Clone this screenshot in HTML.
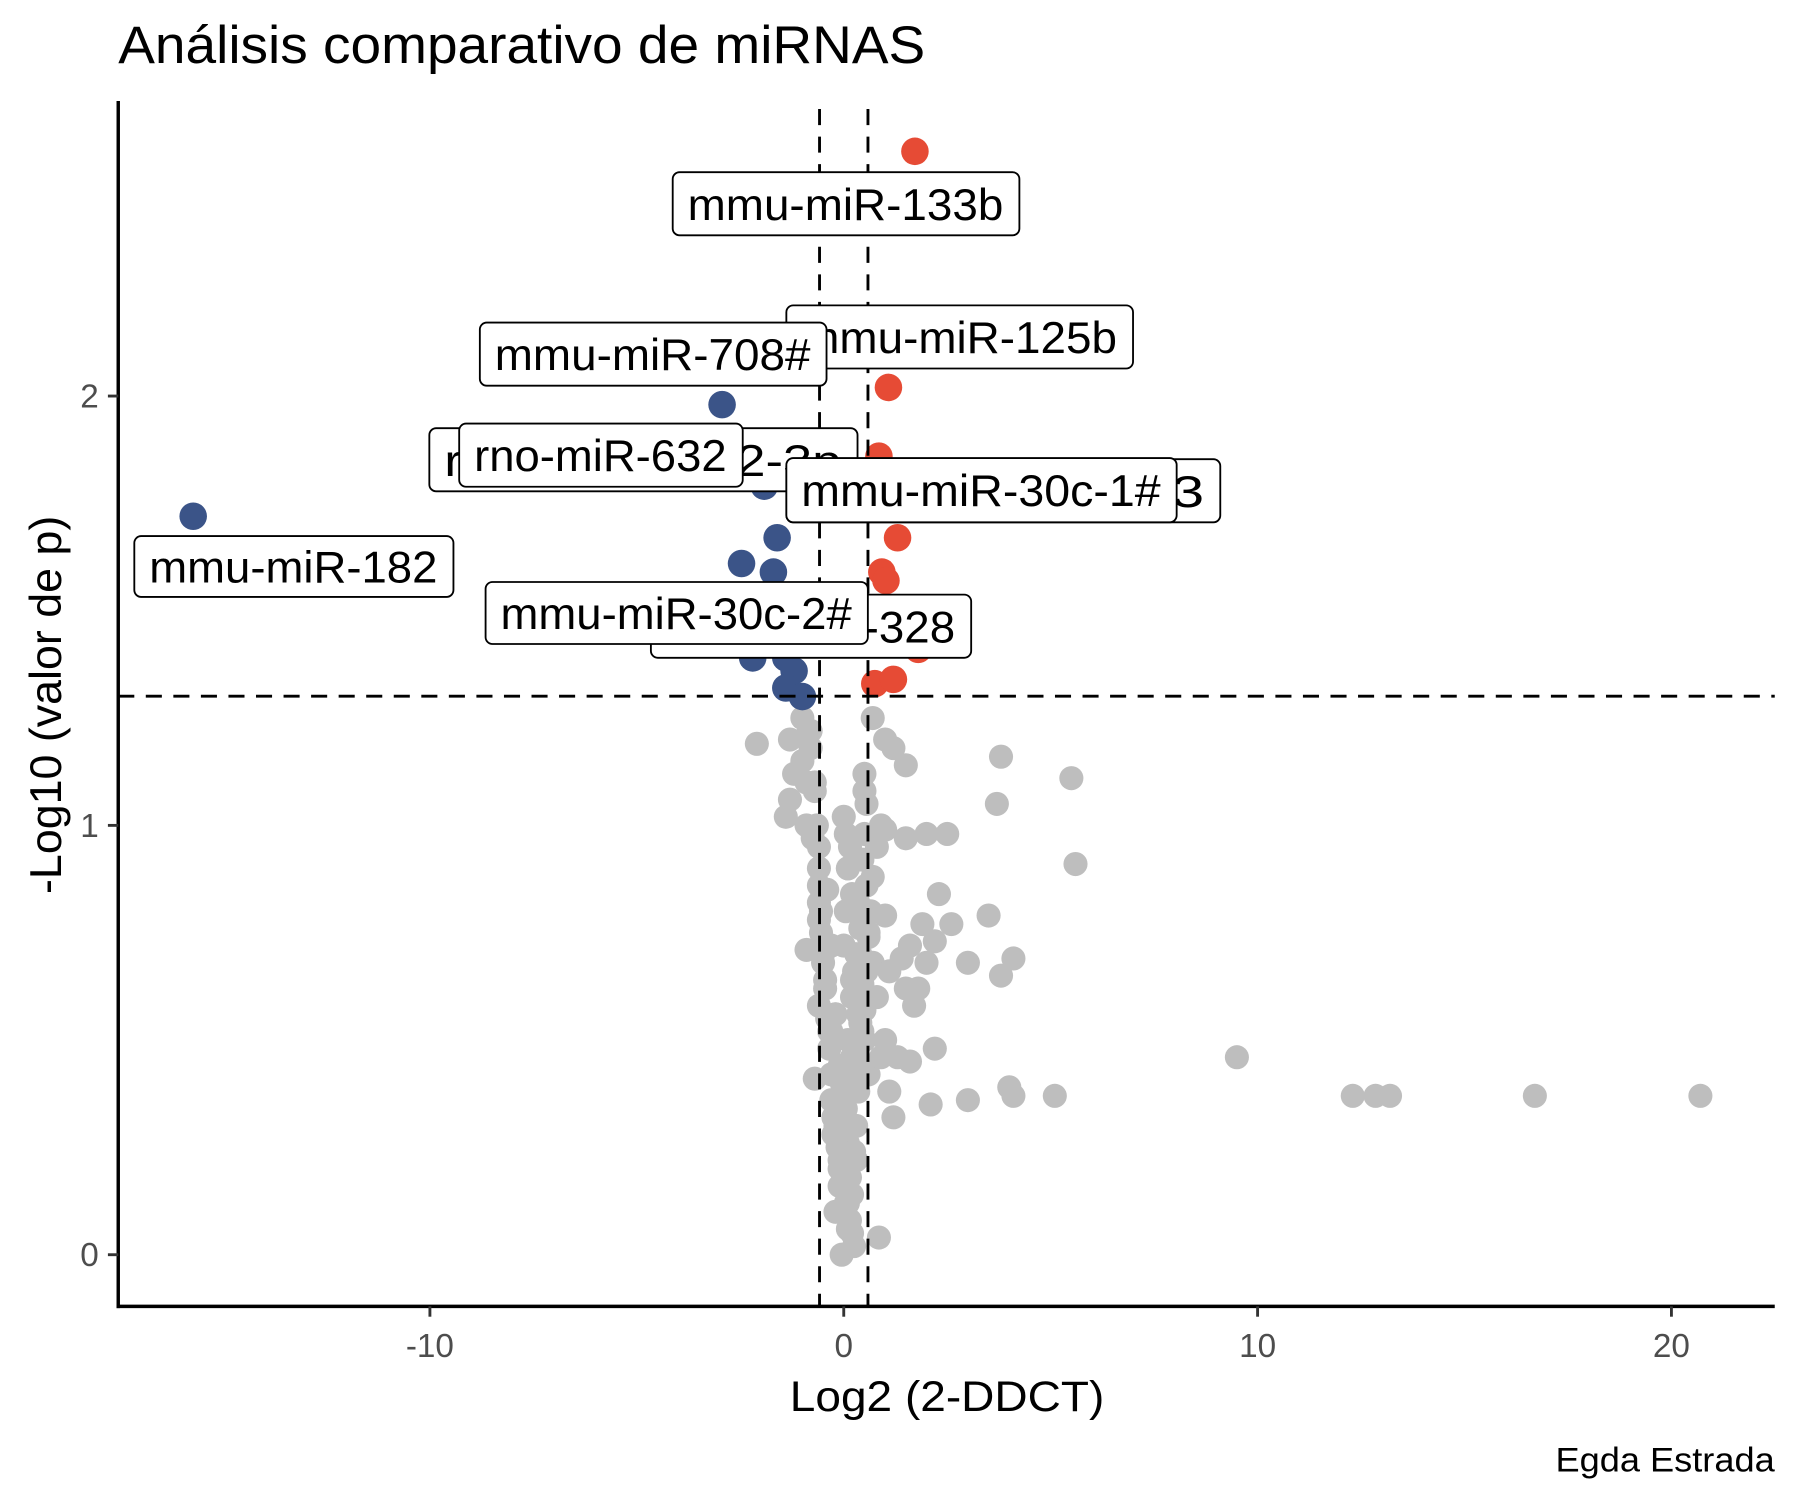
<!DOCTYPE html>
<html><head><meta charset="utf-8"><style>
html,body{margin:0;padding:0;background:#fff}
svg{display:block}
text{font-family:"Liberation Sans",Arial,sans-serif}
</style></head><body>
<svg id="chart" width="1800" height="1500" viewBox="0 0 1568 1306.67" preserveAspectRatio="none" xmlns="http://www.w3.org/2000/svg">
<rect x="0" y="0" width="1568" height="1306.67" fill="#fff"/>
<text x="103" y="55" font-size="46" textLength="703" lengthAdjust="spacingAndGlyphs" fill="#000">Análisis comparativo de miRNAS</text>
<g id="grey"></g>
<g id="sig"></g>
<g id="guides"></g>
<g id="labels"></g>
<g id="axes"></g>
<text x="688" y="1229" font-size="37" textLength="274" lengthAdjust="spacingAndGlyphs" fill="#000">Log2 (2-DDCT)</text>
<text transform="translate(53,614) rotate(-90)" font-size="39" text-anchor="middle" fill="#000">-Log10 (valor de p)</text>
<text x="1355" y="1282" font-size="30" textLength="191" lengthAdjust="spacingAndGlyphs" fill="#000">Egda Estrada</text>
</svg>
<script>
const xTicks = [-10, 0, 10, 20];
const yTicks = [0, 1, 2];
const fcThresh = [-0.585, 0.585];
const pThresh = [1.301];
const upX = [1.72, 1.08, 0.85, 1.3, 0.92, 1.02, 1.8, 0.75, 1.2, 1.0, 0.8];
const upY = [2.57, 2.02, 1.86, 1.67, 1.59, 1.57, 1.41, 1.33, 1.34, 1.45, 1.80];
const downX = [-15.72, -2.94, -1.92, -1.61, -2.47, -1.7, -2.2, -1.4, -1.2, -1.4, -1.0, -1.3, -1.9];
const downY = [1.72, 1.98, 1.79, 1.67, 1.61, 1.59, 1.39, 1.39, 1.36, 1.32, 1.30, 1.47, 1.52];
const nsX = [9.5,12.3,12.85,13.2,16.7,20.7,5.1,4.0,4.1,3.0,2.1,1.2,5.5,5.6,3.8,3.7,2.5,2.0,1.5,1.0,2.3,3.5,1.9,2.6,4.1,3.0,3.8,1.0,2.2,1.6,1.4,2.0,1.5,1.8,1.7,2.2,1.6,1.3,1.1,1.5,1.0,0.7,1.2,-2.1,-1.3,-1.0,-1.2,-1.3,-1.4,-0.9,-0.6,-0.6,-0.6,-0.55,-0.9,-0.5,-0.6,-0.7,0.5,
 -1.0,-0.9,-0.8,-0.7,-0.75,-0.6,-0.5,-0.45,-0.4,-0.35,-0.3,-0.3,-0.25,-0.2,-0.15,-0.1,0.0,0.05,0.1,0.15,0.2,0.25,0.3,0.35,0.4,0.45,0.5,0.55,0.6,0.65,0.7,0.8,0.9,0.3,0.4,0.5,0.2,0.1,0.0,-0.1,-0.2,0.3,0.4,0.6,0.9,1.0,0.5,0.35,0.25,0.15,0.05,0.0,-0.05,0.1,0.2,0.3,0.0,-0.1,0.1,0.2,-0.2,0.0,0.05,0.1,0.15,0.0,0.05,-0.3,-0.4,0.6,0.7,0.5,0.4,0.45,0.8,1.1,0.85,
 -0.2,-0.1,0.0,0.1,0.2,-0.15,-0.05,0.05,0.15,0.25,-0.25,-0.1,0.0,0.1,0.2,0.3,-0.3,-0.2,0.2,0.3,0.4,0.35,0.45,0.55,0.5,0.4,0.6,0.55,0.5,0.45,-0.35,-0.45,-0.5,-0.55,-0.6,-0.65,-0.7,-0.8,-0.85,-0.9];
const nsY = [0.46,0.37,0.37,0.37,0.37,0.37,0.37,0.39,0.37,0.36,0.35,0.32,1.11,0.91,1.16,1.05,0.98,0.98,0.97,0.99,0.84,0.79,0.77,0.77,0.69,0.68,0.65,0.79,0.73,0.72,0.69,0.68,0.62,0.62,0.58,0.48,0.45,0.46,0.38,1.14,1.20,1.25,1.18,1.19,1.20,1.25,1.12,1.06,1.02,1.0,0.95,0.86,0.78,0.75,0.71,0.68,0.58,0.41,0.57,
 1.15,1.10,1.22,1.08,0.97,0.82,0.72,0.64,0.55,0.48,0.42,0.36,0.32,0.28,0.25,0.22,0.18,0.15,0.12,0.08,0.05,0.02,0.30,0.38,0.44,0.52,0.60,0.66,0.74,0.80,0.88,0.95,1.0,0.62,0.70,0.78,0.84,0.90,0.10,0.20,0.30,0.46,0.54,0.42,0.46,0.50,1.08,0.56,0.66,0.40,0.34,0.26,0.0,0.06,0.14,0.22,0.36,0.44,0.50,0.60,0.56,0.72,0.80,0.90,0.95,1.02,0.98,0.72,0.85,0.75,0.68,0.50,0.62,0.63,0.60,0.66,
 0.04,0.10,0.16,0.20,0.26,0.30,0.34,0.40,0.12,0.18,0.24,0.28,0.34,0.38,0.42,0.46,0.48,0.52,0.56,0.64,0.70,0.76,0.82,0.92,1.05,1.12,0.58,0.68,0.86,0.98,0.44,0.52,0.62,0.70,0.80,0.90,1.00,1.10,1.18,1.22];

const NS="http://www.w3.org/2000/svg";
const X0=103, X1=1546, Y0=88, Y1=1138;
const sx = v => 735 + v*36.05;
const sy = v => 1093 - v*374;
function mk(tag, attrs, parent){const e=document.createElementNS(NS,tag);for(const k in attrs)e.setAttribute(k,attrs[k]);parent.appendChild(e);return e;}

const grey=document.getElementById('grey');
const nN=Math.min(nsX.length,nsY.length);
for(let i=0;i<nN;i++){const c=mk('circle',{cx:sx(nsX[i]),cy:sy(nsY[i]),r:10.5,fill:'#bebebe'},grey);

}
const sig=document.getElementById('sig');
downX.forEach((x,i)=>{const c=mk('circle',{cx:sx(x),cy:sy(downY[i]),r:12,fill:'#3b5488'},sig);

});
upX.forEach((x,i)=>{const c=mk('circle',{cx:sx(x),cy:sy(upY[i]),r:12,fill:'#e64b35'},sig);

});

const guides=document.getElementById('guides');
fcThresh.forEach(v=>{const l=mk('line',{x1:sx(v),x2:sx(v),y1:Y0+7,y2:Y1,stroke:'#000','stroke-width':2.5,'stroke-dasharray':'14,10'},guides);

});
pThresh.forEach(v=>{const l=mk('line',{x1:X0,x2:X1,y1:sy(v),y2:sy(v),stroke:'#000','stroke-width':2.5,'stroke-dasharray':'14,10'},guides);

});

const labelText = ["mmu-miR-133b","mmu-miR-125b","mmu-miR-708#","rno-miR-1202-3p","rno-miR-632","mmu-miR-1903","mmu-miR-30c-1#","mmu-miR-328","mmu-miR-30c-2#","mmu-miR-182"];
const boxes=[[586,150,302,55,0,1],[685,266,302,55,1,0],[418,281,302,55,2,1],[374,373,373,55,3,0],[400,369,247,55,4,1],[685,400,378,55,5,0],[685,399,340,56,6,1],[567,518,279,55,7,0],[423,507,333,54,8,1],[117,467,278,53,9,1]];
const labels=document.getElementById('labels');
boxes.forEach(b=>{const g=mk('g',{},labels);


mk('rect',{x:b[0],y:b[1],width:b[2],height:b[3],rx:6,fill:'#fff',stroke:'#000','stroke-width':1.6},g);
const t=mk('text',{x:b[0]+13,y:b[1]+b[3]/2+14,'font-size':39,'text-anchor':'start',fill:'#000',textLength:b[2]-27,lengthAdjust:'spacingAndGlyphs'},g);
t.textContent=labelText[b[4]];
});

const axes=document.getElementById('axes');
const ya=mk('line',{x1:X0,x2:X0,y1:Y0,y2:Y1+1.5,stroke:'#000','stroke-width':3},axes);


const xa=mk('line',{x1:X0-1.5,x2:X1,y1:Y1,y2:Y1,stroke:'#000','stroke-width':3},axes);


xTicks.forEach(v=>{mk('line',{x1:sx(v),x2:sx(v),y1:Y1,y2:Y1+9,stroke:'#333','stroke-width':2.5},axes);
const t=mk('text',{x:sx(v),y:1182,'font-size':29,'text-anchor':'middle',fill:'#4d4d4d'},axes);
t.textContent=v;

});
yTicks.forEach(v=>{mk('line',{x1:X0-9,x2:X0,y1:sy(v),y2:sy(v),stroke:'#333','stroke-width':2.5},axes);
const t=mk('text',{x:86,y:sy(v)+10,'font-size':29,'text-anchor':'end',fill:'#4d4d4d'},axes);
t.textContent=v;

});
</script>
</body></html>
